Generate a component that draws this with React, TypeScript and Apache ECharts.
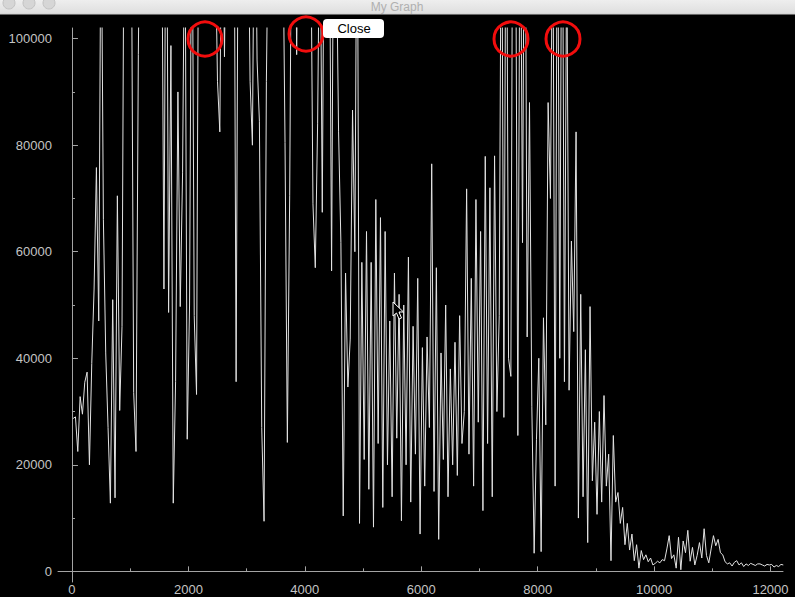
import React, { useEffect, useRef } from "react";
import * as echarts from "echarts";

// Signal sampled every SAMPLE_STEP units starting at SAMPLE_START
const SAMPLE_START = 20;
const SAMPLE_STEP = 40;
const SIGNAL: number[] = [
  28700, 29000, 22500, 32800, 29500, 35500, 37400, 20000, 39000, 53000,
  75800, 47000, 130000, 66000, 41000, 27000, 12800, 51000, 13800, 70500,
  30200, 46000, 140000, 135000, 150000, 125000, 33600, 22500, 97000, 140000,
  150000, 130000, 145000, 160000, 140000, 150000, 135000, 145000, 130000, 53000,
  150000, 48600, 98700, 12800, 35600, 90000, 49700, 74800, 130000, 24800,
  50000, 140000, 48000, 33200, 140000,
  130000, 145000, 125000, 150000, 135000, 140000, 120000, 92000, 82500, 140000,
  96600, 140000, 150000, 130000, 145000, 35600, 140000, 150000, 135000, 140000,
  130000, 92000, 80000, 140000, 96000, 84500, 27000, 9400, 92000, 130000,
  150000, 140000, 135000, 150000, 140000, 125000, 80500, 24200, 70500, 140000,
  150000, 97000, 140000, 150000, 130000, 145000, 140000, 125000, 69000, 57000,
  84000, 130000, 67400, 140000, 150000, 130000, 56400, 140000, 120000, 82500,
  61700, 10400, 56000, 34600, 43600, 86600, 60000, 140000, 9000, 58000, 21000,
  63800, 15400, 58000, 8300, 69800, 24000, 66400, 12000, 63800, 20000,
  47000, 14000, 56000, 25000, 52000, 9500, 50000, 20000, 59000, 13000,
  46000, 22000, 55000, 7000, 42000, 16000, 44000, 27000, 76500, 15000,
  57000, 6000, 41000, 21000, 50000, 14000, 38000, 20000, 43000, 18000,
  48000, 24000, 30000, 71800, 22000, 55000, 16000, 69800, 28000, 63800,
  11400, 77900, 24000, 72000, 14000, 78000, 30000, 48000, 140000, 28900,
  150000, 40000, 36600, 160000, 130000, 25500, 140000, 61700, 150000, 44000,
  88000, 31000, 3400, 24800, 40000, 3700, 47600, 27500, 88000, 70000,
  130000, 16000, 140000, 40000, 150000, 35600, 120000, 34000, 62000, 45000,
  82500, 10000, 52000, 14000, 41600, 5400, 49700, 17000, 28000, 10700,
  30000, 13000, 33000, 16000, 22000, 2000, 25500, 13000, 14800, 9000,
  12000, 5000, 9000, 4000, 7000, 2000, 5000, 600, 3900, 2200,
  3100, 1800, 2500, 1200, 1500, 1900, 1600, 2200, 2000, 4200,
  6700, 2400, 3100, 600, 6400, 300, 5700, 3500, 7700, 1900,
  4500, 1200, 3000, 5400, 2500, 8000, 3000, 1600, 4200, 6700,
  4800, 6000, 3500, 3100, 1800, 1400, 1600, 1000, 1700, 2000,
  1200, 1600, 900, 1400, 1100, 1500, 1300, 1100, 1400, 1400,
  1200, 1000, 1300, 1200, 1300, 800, 1100, 900, 1300, 1200,
];

const X_MIN = -240;
const X_MAX = 12215;
const Y_MIN = -2000;
const Y_MAX = 102000;
const X_MAJOR_TICKS = [0, 2000, 4000, 6000, 8000, 10000, 12000];
const X_MINOR_TICKS = [1000, 3000, 5000, 7000, 9000, 11000];
const Y_MAJOR_TICKS = [0, 20000, 40000, 60000, 80000, 100000];
const Y_MINOR_TICKS = [10000, 30000, 50000, 70000, 90000];

const WINDOW_TITLE = "My Graph";
const BUTTON_LABEL = "Close";

const FONT = '"Liberation Sans", Arial, Helvetica, sans-serif';
const AXIS_COLOR = "#a4a4a4";
const LABEL_COLOR = "#c4c4c4";

const plainNumber = (v: number) => String(Math.round(v));

export default function App() {
  const ref = useRef<HTMLDivElement>(null);

  useEffect(() => {
    if (!ref.current) return;
    const chart = echarts.init(ref.current, undefined, { renderer: "svg" });

    const seriesData = SIGNAL.map((v, i) => [SAMPLE_START + i * SAMPLE_STEP, v]);

    const axisCommonX = {
      type: "value" as const,
      min: X_MIN,
      max: X_MAX,
      position: "bottom" as const,
      gridIndex: 0,
      splitLine: { show: false },
    };
    const axisCommonY = {
      type: "value" as const,
      min: Y_MIN,
      max: Y_MAX,
      position: "left" as const,
      gridIndex: 0,
      splitLine: { show: false },
    };

    const redCircle = (cx: number, cy: number) => ({
      type: "circle",
      shape: { cx, cy, r: 17 },
      style: { fill: "none", stroke: "#f20d0d", lineWidth: 3 },
      z: 100,
    });

    chart.setOption({
      animation: false,
      backgroundColor: "#000000",
      grid: {
        left: 58,
        right: 12,
        top: 28,
        bottom: 15,
        containLabel: false,
        outerBoundsMode: "none",
      },
      xAxis: [
        {
          ...axisCommonX,
          axisLine: { show: true, lineStyle: { color: AXIS_COLOR, width: 1 } },
          axisTick: {
            show: true,
            inside: true,
            length: 5,
            customValues: X_MAJOR_TICKS,
            lineStyle: { color: AXIS_COLOR },
          },
          axisLabel: {
            show: true,
            customValues: X_MAJOR_TICKS,
            formatter: plainNumber,
            color: LABEL_COLOR,
            fontSize: 13,
            fontFamily: FONT,
            margin: 1,
          },
        },
        {
          ...axisCommonX,
          axisLine: { show: false },
          axisTick: {
            show: true,
            inside: true,
            length: 3,
            customValues: X_MINOR_TICKS,
            lineStyle: { color: AXIS_COLOR },
          },
          axisLabel: { show: false },
        },
      ],
      yAxis: [
        {
          ...axisCommonY,
          axisLine: { show: true, lineStyle: { color: AXIS_COLOR, width: 1 } },
          axisTick: {
            show: true,
            inside: true,
            length: 6,
            customValues: Y_MAJOR_TICKS,
            lineStyle: { color: AXIS_COLOR },
          },
          axisLabel: {
            show: true,
            customValues: Y_MAJOR_TICKS,
            formatter: plainNumber,
            color: LABEL_COLOR,
            fontSize: 13,
            fontFamily: FONT,
            margin: 6,
          },
        },
        {
          ...axisCommonY,
          axisLine: { show: false },
          axisTick: {
            show: true,
            inside: true,
            length: 3,
            customValues: Y_MINOR_TICKS,
            lineStyle: { color: AXIS_COLOR },
          },
          axisLabel: { show: false },
        },
      ],
      series: [
        {
          type: "line",
          xAxisIndex: 0,
          yAxisIndex: 0,
          data: seriesData,
          showSymbol: false,
          symbol: "none",
          clip: true,
          silent: true,
          lineStyle: { color: "#e2e2e2", width: 1, join: "bevel" },
        },
      ],
      graphic: [
        {
          type: "rect",
          shape: { x: 0, y: 0, width: 795, height: 14 },
          style: {
            fill: new echarts.graphic.LinearGradient(0, 0, 0, 1, [
              { offset: 0, color: "#eeeeee" },
              { offset: 1, color: "#dedede" },
            ]),
          },
          z: 90,
        },
        {
          type: "line",
          shape: { x1: 0, y1: 14, x2: 795, y2: 14 },
          style: { stroke: "#cfcfcf", lineWidth: 1 },
          z: 90,
        },
        ...[9, 29, 49].map((cx) => ({
          type: "circle",
          shape: { cx, cy: 3, r: 6 },
          style: { fill: "#d6d6d6", stroke: "#c2c2c2", lineWidth: 1 },
          z: 91,
        })),
        {
          type: "text",
          x: 397,
          y: 7,
          style: {
            text: WINDOW_TITLE,
            fill: "#b0b0b0",
            font: `12px ${FONT}`,
            align: "center",
            verticalAlign: "middle",
          },
          z: 91,
        },
        redCircle(205, 39),
        redCircle(306, 34),
        redCircle(511, 39),
        redCircle(563, 39),
        {
          type: "rect",
          shape: { x: 323, y: 19, width: 61, height: 19, r: 4 },
          style: { fill: "#ffffff" },
          z: 110,
        },
        {
          type: "text",
          x: 354,
          y: 28,
          style: {
            text: BUTTON_LABEL,
            fill: "#000000",
            font: `13px ${FONT}`,
            align: "center",
            verticalAlign: "middle",
          },
          z: 111,
        },
        {
          type: "polygon",
          shape: {
            points: [
              [393, 302],
              [393, 316],
              [396.5, 313],
              [399, 319],
              [401.5, 318],
              [399, 312],
              [403.5, 312],
            ],
          },
          style: { fill: "#000000", stroke: "#ffffff", lineWidth: 1 },
          z: 120,
        },
      ],
    });

    return () => {
      chart.dispose();
    };
  }, []);

  return (
    <div
      ref={ref}
      style={{
        position: "fixed",
        left: 0,
        top: 0,
        width: 795,
        height: 597,
        background: "#000",
      }}
    />
  );
}
